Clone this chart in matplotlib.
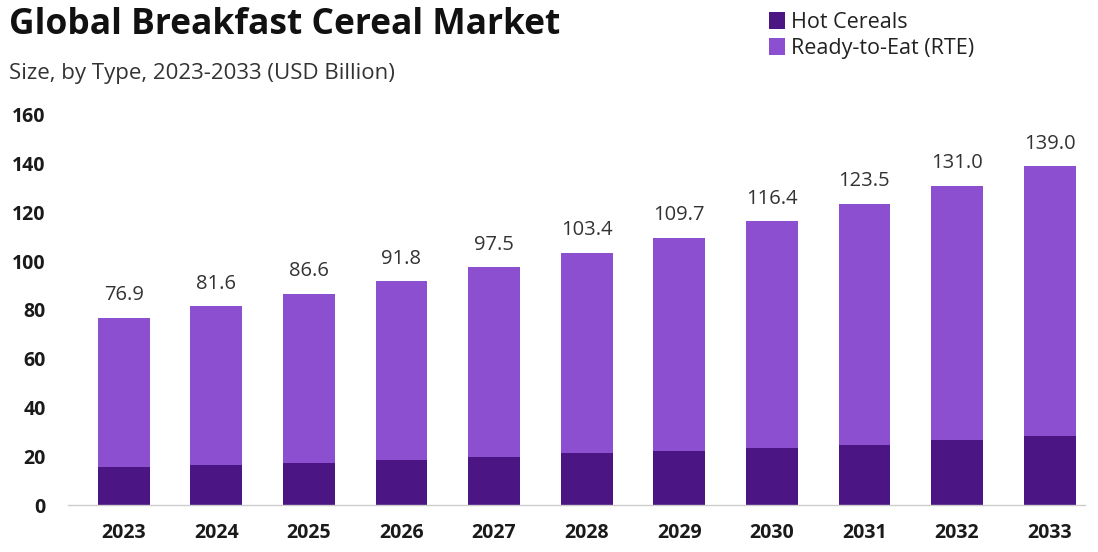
import matplotlib.pyplot as plt
import numpy as np

plt.rcParams['font.family'] = ['Open Sans', 'DejaVu Sans']

years = ['2023', '2024', '2025', '2026', '2027', '2028',
         '2029', '2030', '2031', '2032', '2033']
totals = [76.9, 81.6, 86.6, 91.8, 97.5, 103.4, 109.7, 116.4, 123.5, 131.0, 139.0]
hot_cereals = [15.7, 16.3, 17.4, 18.6, 19.8, 21.2, 22.3, 23.4, 24.8, 26.6, 28.3]
rte = [t - h for t, h in zip(totals, hot_cereals)]

hot_color = '#4b1584'
rte_color = '#8b4fcf'

fig = plt.figure(figsize=(10.98, 5.52), dpi=100)
ax = fig.add_axes([0.062, 0.085, 0.926, 0.707])

x = np.arange(len(years))
width = 0.56
ax.bar(x, hot_cereals, width, color=hot_color, label='Hot Cereals')
ax.bar(x, rte, width, bottom=hot_cereals, color=rte_color, label='Ready-to-Eat (RTE)')

for xi, t in zip(x, totals):
    ax.annotate(f'{t:.1f}', (xi, t), xytext=(0, 9), textcoords='offset points',
                ha='center', va='bottom', fontsize=14.5, color='#333333')

ax.set_xlim(-0.6, 10.38)
ax.set_ylim(0, 160)
ax.set_yticks(range(0, 161, 20))
ax.set_xticks(x)
ax.set_xticklabels(years)
for lab in ax.get_xticklabels() + ax.get_yticklabels():
    lab.set_fontweight('bold')
    lab.set_fontsize(14)
    lab.set_color('#1a1a1a')
ax.tick_params(axis='both', length=0)
ax.tick_params(axis='x', pad=13)
ax.tick_params(axis='y', pad=16)
for side in ['top', 'right', 'left']:
    ax.spines[side].set_visible(False)
ax.spines['bottom'].set_color('#cccccc')
ax.spines['bottom'].set_linewidth(1)

fig.text(0.008, 0.955, 'Global Breakfast Cereal Market', fontsize=25.5,
         fontweight='bold', color='#111111', va='center')
fig.text(0.008, 0.866, 'Size, by Type, 2023-2033 (USD Billion)', fontsize=16,
         color='#333333', va='center')

handles, labels = ax.get_legend_handles_labels()
fig.legend(handles, labels, loc='upper left', bbox_to_anchor=(0.69, 1.0),
           frameon=False, fontsize=15.5, handlelength=0.7, handleheight=0.85,
           handletextpad=0.3, labelspacing=0.25, borderaxespad=0.15,
           labelcolor='#222222')

fig.savefig('out.png', dpi=100, facecolor='white')
